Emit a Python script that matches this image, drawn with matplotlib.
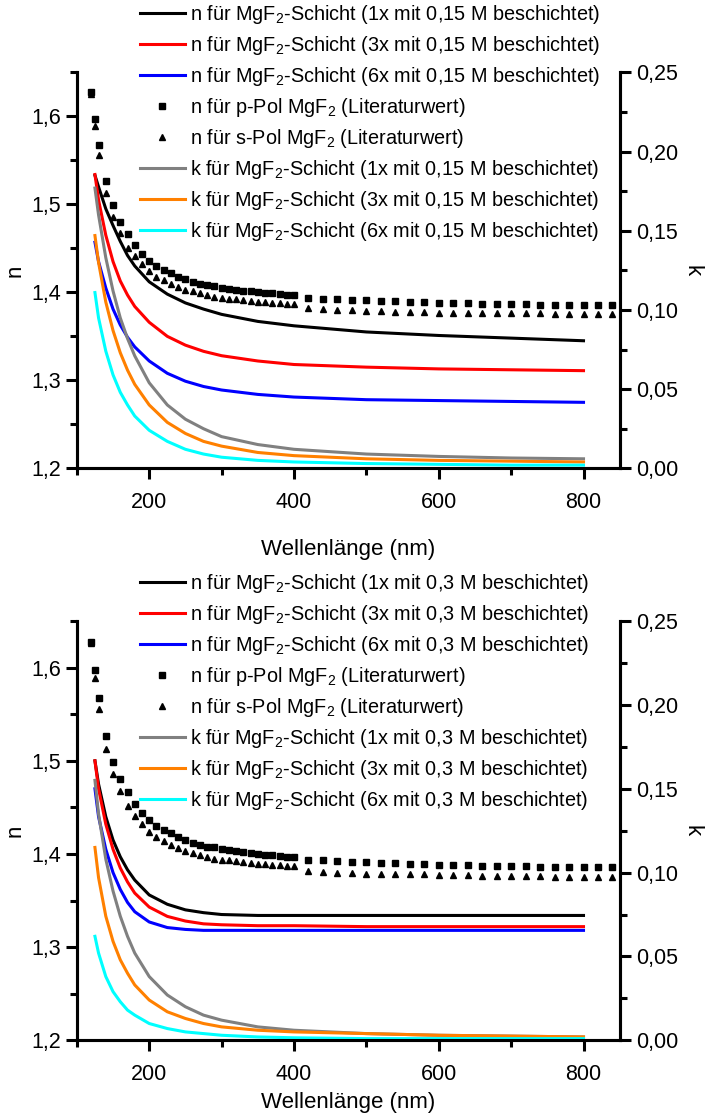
import matplotlib
matplotlib.use("Agg")
import matplotlib.pyplot as plt
from matplotlib.ticker import MultipleLocator, FuncFormatter

plt.rcParams['font.family'] = ['Liberation Sans', 'DejaVu Sans']
plt.rcParams['mathtext.fontset'] = 'custom'
plt.rcParams['mathtext.rm'] = 'Liberation Sans'

# wavelengths of the fitted layer curves (nm)
wl = [125, 130, 140, 150, 160, 170, 180, 200, 225, 250, 275, 300, 350, 400, 500, 600, 700, 800]

# top plot: 0,15 M
n1_015 = [1.533, 1.520, 1.495, 1.476, 1.458, 1.442, 1.430, 1.412, 1.398, 1.388, 1.381, 1.375, 1.367, 1.362, 1.355, 1.351, 1.348, 1.345]
n3_015 = [1.534, 1.505, 1.465, 1.435, 1.413, 1.397, 1.384, 1.366, 1.350, 1.340, 1.333, 1.328, 1.322, 1.318, 1.315, 1.313, 1.312, 1.311]
n6_015 = [1.457, 1.435, 1.405, 1.381, 1.363, 1.349, 1.338, 1.322, 1.308, 1.299, 1.293, 1.289, 1.284, 1.281, 1.278, 1.277, 1.276, 1.275]
k1_015 = [0.177, 0.160, 0.133, 0.112, 0.095, 0.082, 0.071, 0.054, 0.040, 0.031, 0.025, 0.020, 0.015, 0.012, 0.009, 0.0075, 0.0065, 0.006]
k3_015 = [0.147, 0.130, 0.105, 0.087, 0.073, 0.062, 0.053, 0.040, 0.029, 0.022, 0.017, 0.014, 0.010, 0.008, 0.006, 0.005, 0.0045, 0.004]
k6_015 = [0.111, 0.095, 0.074, 0.059, 0.048, 0.040, 0.033, 0.024, 0.017, 0.012, 0.009, 0.007, 0.005, 0.004, 0.003, 0.0025, 0.002, 0.002]

# bottom plot: 0,3 M
n1_03 = [1.500, 1.475, 1.440, 1.415, 1.397, 1.383, 1.372, 1.356, 1.346, 1.340, 1.337, 1.335, 1.334, 1.334, 1.334, 1.334, 1.334, 1.334]
n3_03 = [1.500, 1.470, 1.432, 1.405, 1.385, 1.370, 1.358, 1.343, 1.333, 1.328, 1.325, 1.324, 1.323, 1.323, 1.322, 1.322, 1.322, 1.322]
n6_03 = [1.470, 1.440, 1.405, 1.380, 1.362, 1.348, 1.338, 1.327, 1.321, 1.319, 1.318, 1.318, 1.318, 1.318, 1.318, 1.318, 1.318, 1.318]
k1_03 = [0.155, 0.135, 0.108, 0.089, 0.074, 0.062, 0.052, 0.038, 0.027, 0.020, 0.015, 0.012, 0.008, 0.006, 0.004, 0.003, 0.0025, 0.002]
k3_03 = [0.115, 0.097, 0.074, 0.059, 0.048, 0.040, 0.033, 0.024, 0.017, 0.013, 0.010, 0.008, 0.006, 0.005, 0.004, 0.003, 0.0025, 0.002]
k6_03 = [0.062, 0.052, 0.038, 0.029, 0.023, 0.018, 0.015, 0.010, 0.007, 0.005, 0.004, 0.003, 0.002, 0.0015, 0.001, 0.001, 0.001, 0.001]

# literature values MgF2
lit_wl = [120, 125, 130,
          140, 150, 160, 170, 180, 190, 200, 210, 220, 230, 240, 250, 260, 270, 280, 290,
          300, 310, 320, 330, 340, 350, 360, 370, 380, 390, 400,
          420, 440, 460, 480, 500, 520, 540, 560, 580, 600, 620, 640, 660, 680, 700,
          720, 740, 760, 780, 800, 820, 840]
n_p = [1.628, 1.597, 1.567,
       1.527, 1.499, 1.480, 1.466, 1.454, 1.444, 1.436, 1.430, 1.426, 1.422, 1.418, 1.415, 1.412, 1.410, 1.408, 1.407,
       1.405, 1.404, 1.403, 1.402, 1.401, 1.400, 1.399, 1.399, 1.398, 1.397, 1.397,
       1.394, 1.393, 1.392, 1.391, 1.391, 1.390, 1.390, 1.389, 1.389, 1.388, 1.388, 1.388, 1.387, 1.387, 1.387,
       1.387, 1.386, 1.386, 1.386, 1.386, 1.386, 1.386]
n_s = [1.626, 1.589, 1.556,
       1.513, 1.486, 1.468, 1.451, 1.441, 1.432, 1.424, 1.418, 1.414, 1.410, 1.406, 1.403, 1.401, 1.399, 1.397, 1.395,
       1.394, 1.393, 1.392, 1.391, 1.390, 1.389, 1.389, 1.388, 1.388, 1.387, 1.387,
       1.382, 1.381, 1.380, 1.380, 1.379, 1.379, 1.378, 1.378, 1.378, 1.377, 1.377, 1.377, 1.376, 1.376, 1.376,
       1.376, 1.376, 1.375, 1.375, 1.375, 1.375, 1.375]

colors_n = ['black', '#ff0000', '#0000ff']
colors_k = ['#808080', '#ff8000', '#00ffff']
MG = r'MgF$_{\mathregular{2}}$'


def comma(fmt):
    return FuncFormatter(lambda v, p: format(v, fmt).replace('.', ','))


def panel(rect, conc, n_list, k_list, leg_anchor, xpad):
    ax = fig.add_axes(rect)
    ax2 = ax.twinx()
    handles = []
    for vals, c, m in zip(n_list, colors_n, ['1x', '3x', '6x']):
        h, = ax.plot(wl, vals, color=c, lw=2.2,
                     label=f'n für {MG}-Schicht ({m} mit {conc} M beschichtet)')
        handles.append(h)
    h, = ax.plot(lit_wl, n_p, 's', color='black', ms=4.5, label=f'n für p-Pol {MG} (Literaturwert)')
    handles.append(h)
    h, = ax.plot(lit_wl, n_s, '^', color='black', ms=5, label=f'n für s-Pol {MG} (Literaturwert)')
    handles.append(h)
    for vals, c, m in zip(k_list, colors_k, ['1x', '3x', '6x']):
        h, = ax2.plot(wl, vals, color=c, lw=2.2,
                      label=f'k für {MG}-Schicht ({m} mit {conc} M beschichtet)')
        handles.append(h)

    ax.set_xlim(100, 850)
    ax.set_ylim(1.2, 1.65)
    ax2.set_ylim(0, 0.25)
    ax.xaxis.set_major_locator(MultipleLocator(200))
    ax.xaxis.set_minor_locator(MultipleLocator(100))
    ax.yaxis.set_major_locator(MultipleLocator(0.1))
    ax.yaxis.set_minor_locator(MultipleLocator(0.05))
    ax2.yaxis.set_major_locator(MultipleLocator(0.05))
    ax2.yaxis.set_minor_locator(MultipleLocator(0.025))
    ax.yaxis.set_major_formatter(comma('.1f'))
    ax2.yaxis.set_major_formatter(comma('.2f'))
    for a in (ax, ax2):
        a.spines['top'].set_visible(False)
        for s in a.spines.values():
            s.set_linewidth(2.2)
        a.tick_params(which='major', direction='out', length=8, width=2.2, labelsize=15.5)
        a.tick_params(which='minor', direction='out', length=5, width=2.2)
    ax.tick_params(axis='x', which='major', pad=9)
    ax.set_xlabel('Wellenlänge (nm)', fontsize=16, labelpad=xpad)
    ax.set_ylabel('n', fontsize=16)
    ax2.set_ylabel('k', fontsize=16, rotation=270, labelpad=18)
    ax2.legend(handles=handles, loc='upper left', bbox_to_anchor=leg_anchor,
               bbox_transform=fig.transFigure, frameon=False, fontsize=14.3,
               handlelength=2.3, handletextpad=0.25, labelspacing=0.4,
               numpoints=1, borderaxespad=0, borderpad=0)
    return ax, ax2


fig = plt.figure(figsize=(7.05, 11.15), dpi=100)
panel([0.109, 0.580, 0.770, 0.355], '0,15', [n1_015, n3_015, n6_015], [k1_015, k3_015, k6_015],
      (0.198, 0.997), 19)
panel([0.109, 0.067, 0.770, 0.376], '0,3', [n1_03, n3_03, n6_03], [k1_03, k3_03, k6_03],
      (0.198, 0.487), 5)

fig.savefig('out.png', dpi=100)
